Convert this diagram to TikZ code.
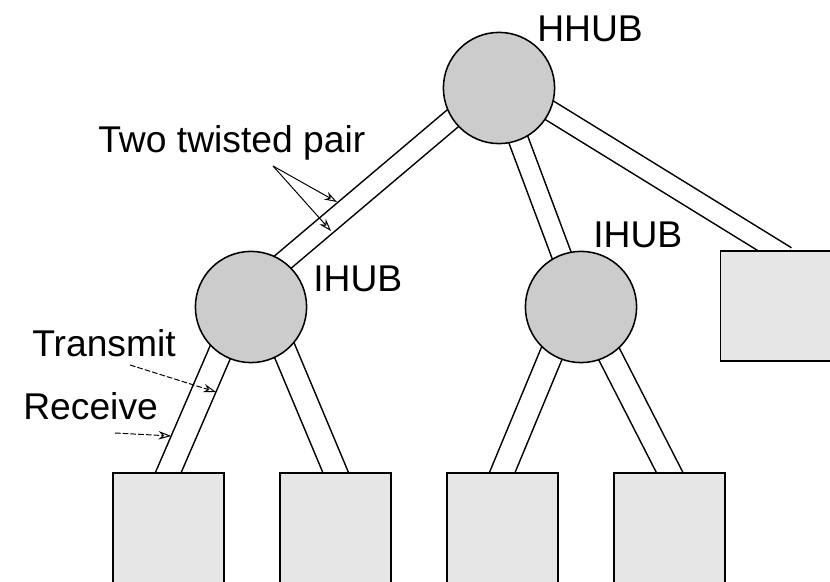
\documentclass[tikz,border=0pt]{standalone}
\usepackage{fontspec}
\setmainfont{Liberation Sans}
\usepackage{xcolor}
\usepackage{tikz}
\usetikzlibrary{arrows.meta,calc,positioning,backgrounds}
\definecolor{hubgray}{HTML}{CCCCCC}
\definecolor{stationgray}{HTML}{E6E6E6}

\begin{document}
\begin{tikzpicture}[
    hub/.style={circle,draw,line width=1.1pt,fill=hubgray,minimum size=2.78cm,inner sep=0pt},
    station/.style={rectangle,draw,line width=1.4pt,fill=stationgray,minimum width=2.775cm,minimum height=2.75cm,inner sep=0pt},
    cable/.style={line width=1.1pt,double=white,double distance=#1,shorten <=-0.3cm,shorten >=-0.3cm},
    cable/.default=0.46cm,
    pointer/.style={line width=0.7pt,-{Stealth[open,length=9pt,width=6pt]}},
    lbl/.style={font=\fontsize{26.5}{30}\selectfont,inner sep=0pt,anchor=base west}]
  \useasboundingbox (0,0) rectangle (20.75,14.55);
  \node[hub] (hhub) at (12.475,12.35) {};
  \node[hub] (ihubL) at (6.275,6.875) {};
  \node[hub] (ihubR) at (14.525,6.875) {};
  \node[station] (st1) at (4.2125,1.35) {};
  \node[station,right=1.35cm of st1] (st2) {};
  \node[station,right=1.35cm of st2] (st3) {};
  \node[station,right=1.35cm of st3] (st4) {};
  \node[station] (stR) at (19.4,6.9) {};
  \node[lbl] (hhubtxt) at (13.425,13.5) {HHUB};
  \node[lbl] (ihubLtxt) at (7.825,7.25) {IHUB};
  \node[lbl] (ihubRtxt) at (14.825,8.35) {IHUB};
  \node[lbl] (pairtxt) at (2.45,10.725) {Two twisted pair};
  \node[lbl] (txtxt) at (0.8,5.625) {Transmit};
  \node[lbl] (rxtxt) at (0.575,4.05) {Receive};
  \begin{scope}[on background layer]
    \draw[cable] ($(hhub)+(0,0.22)$) -- ($(ihubL)+(0,0.45)$);
    \draw[cable] (hhub.center) -- (ihubR.center);
    \draw[cable] ($(hhub)+(0,0.22)$) -- (stR.north);
    \draw[cable=0.55cm] ($(ihubL)+(-0.28,0)$) -- (st1.north);
    \draw[cable=0.55cm] ($(ihubL)+(0.38,0)$) -- (st2.north);
    \draw[cable=0.55cm] ($(ihubR)+(-0.25,0)$) -- (st3.north);
    \draw[cable=0.55cm] ($(ihubR)+(0.1,0)$) -- (st4.north);
  \end{scope}
  \coordinate (pairsrc) at (6.825,10.4);
  \coordinate (pairhi) at (8.425,9.5);
  \coordinate (pairlo) at (8.275,8.775);
  \coordinate (txsrc) at (3.25,5.425);
  \coordinate (txend) at (5.4,4.75);
  \coordinate (rxsrc) at (2.875,3.725);
  \coordinate (rxend) at (4.28,3.65);
  \draw[pointer] (pairsrc) -- (pairhi);
  \draw[pointer] (pairsrc) -- (pairlo);
  \draw[pointer,dash pattern=on 4pt off 1.5pt] (txsrc) -- (txend);
  \draw[pointer,dash pattern=on 4pt off 1.5pt] (rxsrc) -- (rxend);
\end{tikzpicture}
\end{document}
